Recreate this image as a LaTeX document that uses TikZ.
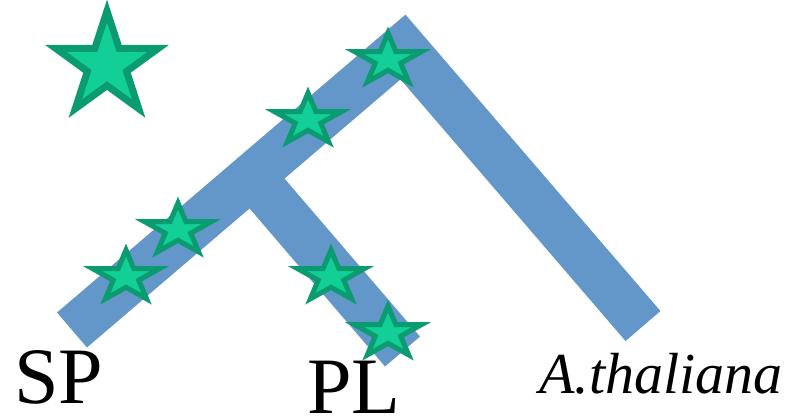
\documentclass[tikz,border=0pt]{standalone}
\usepackage{fontspec}
\setmainfont{Liberation Serif}
\usetikzlibrary{shapes.geometric}
\definecolor{branchblue}{HTML}{6396C9}
\definecolor{starfill}{HTML}{12CF98}
\definecolor{starline}{HTML}{0B9B70}

\tikzset{
  branch/.style={branchblue, line width=46pt, line cap=butt, line join=miter},
  bigstar/.style={star, star points=5, star point ratio=2.618, inner sep=0pt,
    minimum size=108pt, fill=starfill, draw=starline, line width=7pt},
  smallstar/.style={star, star points=5, star point ratio=2.618, inner sep=0pt,
    minimum size=54pt, fill=starfill, draw=starline, line width=5pt, xscale=1.3},
  taxon/.style={anchor=base, inner sep=0pt, text=black,
    font=\fontsize{80}{80}\selectfont}
}

\begin{document}
\begin{tikzpicture}[x=1pt, y=-1pt]

% Canvas
\useasboundingbox (0,0) rectangle (789,417);

% ================================================================
% Tree branches
% ================================================================
\coordinate (spend) at (72,330);
\coordinate (root)  at (403,47);
\coordinate (atend) at (643,326);
\coordinate (fork)  at (252,176);
\coordinate (plend) at (402.5,351.5);

\draw[branch] (spend) -- (root) -- (atend);
\draw[branch] (fork) -- (plend);

% ================================================================
% Stars
% ================================================================
\node[bigstar] (legend) at (107,65) {};

% along the SP -- root branch
\node[smallstar] (s1) at (126,277) {};
\node[smallstar] (s2) at (178,230) {};
\node[smallstar] (s3) at (308,120) {};
\node[smallstar] (s4) at (388,60) {};

% along the PL branch
\node[smallstar] (s5) at (331,277) {};
\node[smallstar] (s6) at (388,333) {};

% ================================================================
% Taxon labels
% ================================================================
\node[taxon] (sp) at (59,403) {SP};
\node[taxon] (pl) at (354,413) {PL};
\node[taxon, font=\fontsize{58}{58}\selectfont\itshape] (at) at (661,393)
  {A.thaliana};

\end{tikzpicture}
\end{document}
